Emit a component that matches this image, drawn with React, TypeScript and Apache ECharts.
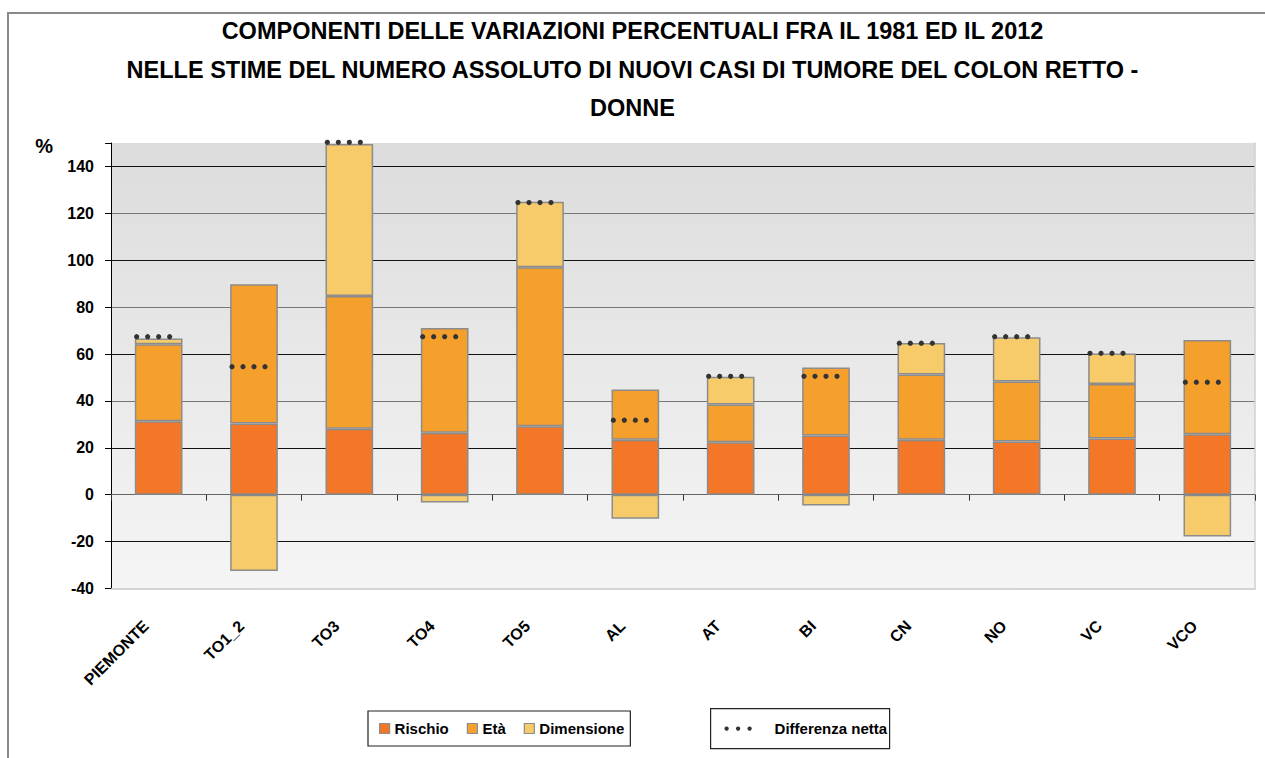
import React, { useEffect, useRef } from 'react';
import * as echarts from 'echarts';

const categories = ['PIEMONTE', 'TO1_2', 'TO3', 'TO4', 'TO5', 'AL', 'AT', 'BI', 'CN', 'NO', 'VC', 'VCO'];
const rischio = [31.3, 30.4, 28.1, 26.4, 29.2, 23.4, 22.4, 25.2, 23.4, 22.7, 24.0, 25.8];
const eta = [32.9, 59.4, 56.7, 44.7, 67.8, 21.5, 16.1, 29.1, 27.9, 25.6, 23.2, 40.2];
const dimensione = [2.4, -32.5, 64.8, -3.3, 27.9, -10.3, 11.8, -4.6, 13.4, 18.9, 13.0, -17.8];
const differenza = [67.4, 54.6, 150.3, 67.4, 124.6, 31.8, 50.5, 50.5, 64.6, 67.4, 60.3, 48.0];

const seriesNames = ['Rischio', 'Età', 'Dimensione'];
const netName = 'Differenza netta';
const titleLines = [
  'COMPONENTI DELLE VARIAZIONI PERCENTUALI FRA IL 1981 ED IL 2012',
  'NELLE STIME DEL NUMERO ASSOLUTO DI NUOVI CASI DI TUMORE DEL COLON RETTO -',
  'DONNE',
];
const yMin = -40;
const yMax = 150;
const yStep = 20;

const FONT = '"Liberation Sans", Arial, Helvetica, sans-serif';

export default function App() {
  const ref = useRef<HTMLDivElement>(null);
  useEffect(() => {
    document.body.style.margin = '0';
    document.body.style.overflow = 'hidden';
    const chart = echarts.init(ref.current as HTMLDivElement, null, { renderer: 'svg' });
    const colors = ['#F37726', '#F5A02C', '#F7CB6A'];
    const values = [rischio, eta, dimensione];
    const bars = seriesNames.map((name, i) => ({
      name,
      type: 'bar',
      stack: 'tot',
      data: values[i],
      barWidth: '50%',
      xAxisIndex: 0,
      yAxisIndex: 0,
      itemStyle: { color: colors[i], borderColor: '#8c8c8c', borderWidth: 1.5 },
    }));
    const splitColors = ['rgba(0,0,0,0)', '#111', '#777', '#111', '#777', '#111', '#777', '#111', '#777', '#111', 'rgba(0,0,0,0)'];
    chart.setOption({
      animation: false,
      textStyle: { fontFamily: FONT },
      title: {
        text: titleLines.join('\n'),
        left: 'center',
        top: 12,
        padding: [0, 0, 0, 13],
        textStyle: { fontFamily: FONT, fontSize: 23.5, fontWeight: 'bold', color: '#000', lineHeight: 38.5 },
      },
      grid: {
        left: 111,
        right: 10,
        top: 143,
        bottom: 169.5,
        show: true,
        borderWidth: 0,
        backgroundColor: new echarts.graphic.LinearGradient(0, 0, 0, 1, [
          { offset: 0, color: '#dcdcdc' },
          { offset: 1, color: '#f5f5f6' },
        ]),
      },
      xAxis: [
        {
          type: 'category',
          data: categories,
          position: 'bottom',
          axisLine: { show: true, onZero: false, lineStyle: { color: '#c8c8c8', width: 1.5 } },
          axisTick: { show: false },
          splitLine: { show: false },
          axisLabel: {
            interval: 0,
            rotate: 45,
            margin: 22,
            padding: [0, 18, 0, 0],
            fontFamily: FONT,
            fontSize: 16,
            fontWeight: 'bold',
            color: '#000',
          },
        },
        {
          type: 'category',
          data: categories,
          position: 'bottom',
          axisLine: { show: true, onZero: true, lineStyle: { color: '#666', width: 1.2 } },
          axisTick: { show: true, interval: 0, length: 6, lineStyle: { color: '#333' } },
          axisLabel: { show: false },
          splitLine: { show: false },
        },
      ],
      yAxis: [
        {
          type: 'value',
          min: yMin,
          max: yMax,
          interval: yStep,
          position: 'left',
          name: '%',
          nameLocation: 'end',
          nameGap: -3,
          nameTextStyle: { fontFamily: FONT, fontSize: 20, fontWeight: 'bold', color: '#000', align: 'right', verticalAlign: 'middle', padding: [0, 58, 0, 0] },
          axisLine: { show: true, lineStyle: { color: '#000', width: 1 } },
          axisTick: { show: true, length: 6, lineStyle: { color: '#000' } },
          axisLabel: {
            margin: 17,
            fontFamily: FONT,
            fontSize: 16,
            fontWeight: 'bold',
            color: '#000',
            formatter: (v: number) => (v === yMax ? '' : String(v)),
          },
          splitLine: { show: true, lineStyle: { color: splitColors, width: 1 } },
        },
        {
          type: 'value',
          min: yMin,
          max: yMax,
          interval: yStep,
          position: 'right',
          axisLine: { show: true, lineStyle: { color: '#d0d0d0', width: 1.5 } },
          axisTick: { show: false },
          axisLabel: { show: false },
          splitLine: { show: false },
        },
      ],
      legend: [
        {
          data: seriesNames,
          left: 368,
          top: 711,
          orient: 'horizontal',
          icon: 'rect',
          itemWidth: 10,
          itemHeight: 10,
          itemGap: 18,
          padding: [10, 6, 10, 11],
          borderColor: '#222',
          borderWidth: 1.2,
          backgroundColor: '#fff',
          selectedMode: false,
          itemStyle: { borderColor: '#8c8c8c', borderWidth: 1.2 },
          textStyle: { fontFamily: FONT, fontSize: 15, fontWeight: 'bold', color: '#000' },
        },
      ],
      graphic: [
        {
          type: 'rect',
          silent: true,
          z: -10,
          shape: { x: 8, y: 13, width: 1300, height: 800 },
          style: { fill: 'none', stroke: '#8a8a8a', lineWidth: 2 },
        },
        {
          type: 'group',
          left: 710,
          top: 708,
          children: [
            { type: 'rect', shape: { x: 0, y: 0, width: 179, height: 40 }, style: { fill: '#fff', stroke: '#222', lineWidth: 1.2 } },
            { type: 'circle', shape: { cx: 16, cy: 20, r: 2.2 }, style: { fill: '#333' } },
            { type: 'circle', shape: { cx: 27.5, cy: 20, r: 2.2 }, style: { fill: '#333' } },
            { type: 'circle', shape: { cx: 39, cy: 20, r: 2.2 }, style: { fill: '#333' } },
            {
              type: 'text',
              x: 64,
              y: 20,
              style: { text: netName, fontFamily: FONT, fontSize: 15, fontWeight: 'bold', fill: '#000', verticalAlign: 'middle', align: 'left' },
            },
          ],
        },
      ],
      series: [
        ...bars,
        {
          name: netName,
          type: 'custom',
          xAxisIndex: 0,
          yAxisIndex: 0,
          z: 5,
          data: differenza.map((v, i) => [i, v]),
          encode: { x: 0, y: 1 },
          renderItem: (params: any, api: any) => {
            const p = api.coord([api.value(0), api.value(1)]);
            return {
              type: 'group',
              children: [0, 1, 2, 3].map((k) => ({
                type: 'circle',
                shape: { cx: p[0] - 22 + 11 * k, cy: p[1], r: 2.6 },
                style: { fill: '#333' },
              })),
            };
          },
        },
      ],
    });
    return () => chart.dispose();
  }, []);
  return <div ref={ref} style={{ width: 1265, height: 758 }} />;
}
